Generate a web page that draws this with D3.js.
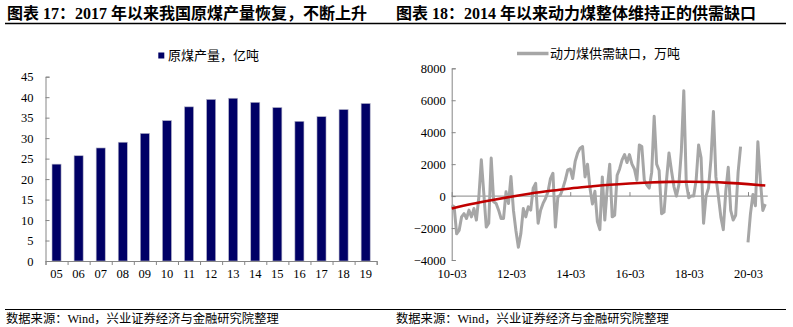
<!DOCTYPE html>
<html><head><meta charset="utf-8">
<script src="https://cdn.jsdelivr.net/npm/d3@7/dist/d3.min.js"></script>
<style>
html,body{margin:0;padding:0;background:#fff;}
svg{display:block;font-family:'Liberation Serif','Noto Sans CJK SC',serif;}
</style></head>
<body><svg id="c" width="793" height="327"></svg>
<script>
// ---- Left chart data ----
const years = ["05","06","07","08","09","10","11","12","13","14","15","16","17","18","19"];
const coalOutput = [23.65,25.7,27.6,29.0,31.15,34.28,37.64,39.45,39.74,38.74,37.47,34.11,35.24,36.98,38.46];
const leftYTicks = [0,5,10,15,20,25,30,35,40,45];

// ---- Right chart data (monthly from 2010-03) ----
const gapValues = [
 -570,-670,-2360,-2150,-1300,-1100,-1400,-880,-1300,-780,
 -1500,-40,2270,170,-1940,-1700,2380,-360,-460,-880,
 -1400,-1400,270,-460,1220,-880,-2150,-3200,-2360,-780,
 -1300,-670,-880,500,800,-1700,-880,-460,-150,270,
 1100,1430,-1940,-40,60,480,1000,1640,1700,1100,
 2170,2700,3000,3100,1200,2000,500,-500,300,-1600,
 -2100,1200,-1500,500,2000,-1300,-1200,1300,1700,2270,
 2600,2100,2600,2000,1700,1000,3200,3100,1000,700,
 500,1500,5000,2000,1600,-1100,-1000,1000,2700,1600,
 600,0,700,2800,6600,800,-100,0,0,1000,
 3200,2400,-1700,0,500,2300,5300,1200,0,-1300,
 -2100,300,1800,-900,-1500,-1200,1500,3100,null,null,
 -2900,-1100,100,-600,3400,1000,-900,-500];
// trend line read at sparse month indices
const trendMonths = [0,8,16,24,32,40,48,56,64,72,80,88,96,104,112,120,127];
const trendValues = [-780,-500,-260,-40,160,330,480,600,710,790,850,890,900,880,830,750,660];
const rightXTickIdx = [0,24,48,72,96,120];
const rightXTickLabels = ["10-03","12-03","14-03","16-03","18-03","20-03"];
const rightYTicks = [-4000,-2000,0,2000,4000,6000,8000];

const svg = d3.select("#c");
svg.append("rect").attr("width",793).attr("height",327).attr("fill","#fff");

// titles
svg.append("text").attr("x",7).attr("y",18.5).attr("font-size",16).attr("font-weight","bold")
  .text("图表 17：2017 年以来我国原煤产量恢复，不断上升");
svg.append("text").attr("x",396).attr("y",18.5).attr("font-size",16).attr("font-weight","bold")
  .text("图表 18：2014 年以来动力煤整体维持正的供需缺口");
svg.append("line").attr("x1",5).attr("x2",786).attr("y1",23.5).attr("y2",23.5).attr("stroke","#000").attr("stroke-width",1.5);
svg.append("line").attr("x1",5).attr("x2",786).attr("y1",309.5).attr("y2",309.5).attr("stroke","#000").attr("stroke-width",1);
svg.append("text").attr("x",6).attr("y",323).attr("font-size",12.3).text("数据来源：Wind，兴业证券经济与金融研究院整理");
svg.append("text").attr("x",396).attr("y",323).attr("font-size",12.3).text("数据来源：Wind，兴业证券经济与金融研究院整理");

const axisColor = "#868686";

// ---- Left chart ----
const xL = d3.scaleBand().domain(years).range([45.5,376.7]).paddingInner(0.59).paddingOuter(0.295);
const yL = d3.scaleLinear().domain([0,45]).range([261,76.7]);
const gL = svg.append("g");
gL.selectAll("rect.bar").data(years).join("rect").attr("class","bar")
  .attr("x",d=>xL(d)).attr("width",xL.bandwidth())
  .attr("y",(d,i)=>yL(coalOutput[i])).attr("height",(d,i)=>yL(0)-yL(coalOutput[i]))
  .attr("fill","#000066").attr("stroke","#b4b4c8").attr("stroke-width",0.6);
gL.append("g").attr("transform","translate(45.5,0)")
  .call(d3.axisLeft(yL).tickValues(leftYTicks).tickSize(-4).tickPadding(12).tickFormat(d3.format("d")));
// x axis with ticks at category boundaries
const boundaries = d3.range(years.length+1);
const xB = d3.scaleLinear().domain([0,years.length]).range([45.5,376.7]);
gL.append("g").attr("transform","translate(0,261)")
  .call(d3.axisBottom(xB).tickValues(boundaries).tickSize(4).tickFormat(""));
gL.append("g").attr("transform","translate(0,267)")
  .call(d3.axisBottom(xL).tickSize(0).tickPadding(2))
  .call(g=>g.select(".domain").remove());

// legend left
svg.append("rect").attr("x",158.3).attr("y",52.5).attr("width",6).attr("height",6).attr("fill","#000066");
svg.append("text").attr("x",168).attr("y",60).attr("font-size",13).attr("font-family","'Noto Sans CJK SC',sans-serif").text("原煤产量，亿吨");

// ---- Right chart ----
const xR = d3.scaleLinear().domain([0,120]).range([451.7,748]);
const yR = d3.scaleLinear().domain([-4000,8000]).range([260,68.3]);
const gR = svg.append("g");
gR.append("g").attr("transform","translate(451.7,0)")
  .call(d3.axisLeft(yR).tickValues(rightYTicks).tickSize(-4).tickPadding(6).tickFormat(d3.format("d")));
// zero-line axis with inward ticks
gR.append("g").attr("transform",`translate(0,${yR(0)})`)
  .call(d3.axisBottom(xR).tickValues(rightXTickIdx).tickSize(-4).tickFormat("").tickSizeOuter(0))
  .call(g=>g.select(".domain").attr("d",`M${xR(0)},0H${xR(128)}`));
gR.append("g").attr("transform","translate(0,267)")
  .call(d3.axisBottom(xR).tickValues(rightXTickIdx).tickSize(0).tickPadding(2).tickFormat((d,i)=>rightXTickLabels[i]))
  .call(g=>g.select(".domain").remove());

const line = d3.line().defined(d=>d!=null).x((d,i)=>xR(i)).y(d=>yR(d));
gR.append("path").attr("d",line(gapValues)).attr("fill","none")
  .attr("stroke","#a6a6a6").attr("stroke-width",3).attr("stroke-linejoin","round");
const trendLine = d3.line().x((d,i)=>xR(trendMonths[i])).y(d=>yR(d)).curve(d3.curveNatural);
gR.append("path").attr("d",trendLine(trendValues)).attr("fill","none")
  .attr("stroke","#c00000").attr("stroke-width",2.6);

// legend right
svg.append("line").attr("x1",517).attr("x2",548.5).attr("y1",53.5).attr("y2",53.5).attr("stroke","#a6a6a6").attr("stroke-width",3.5);
svg.append("text").attr("x",550).attr("y",58.3).attr("font-size",13).attr("font-family","'Noto Sans CJK SC',sans-serif").text("动力煤供需缺口，万吨");

// axis styling
svg.selectAll(".domain").attr("stroke",axisColor);
svg.selectAll(".tick line").attr("stroke",axisColor);
svg.selectAll(".tick text").attr("font-size",12.5).attr("fill","#000").attr("font-family","'Liberation Serif',serif");
</script></body></html>
